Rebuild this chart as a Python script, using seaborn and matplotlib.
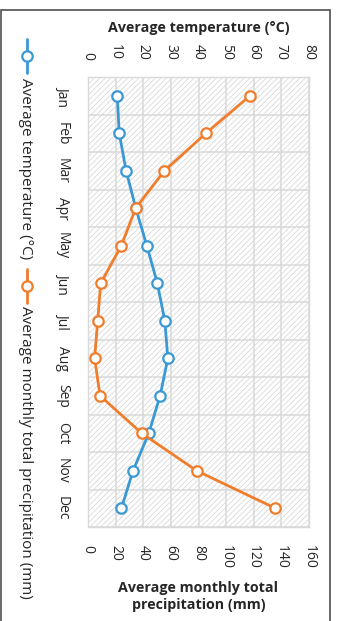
import numpy as np
import pandas as pd
import matplotlib
matplotlib.use("Agg")
import matplotlib.pyplot as plt
import seaborn as sns
from matplotlib.lines import Line2D
from matplotlib.patches import Rectangle

months = ["Jan", "Feb", "Mar", "Apr", "May", "Jun", "Jul", "Aug", "Sep", "Oct", "Nov", "Dec"]
temperature = [10.6, 11.3, 13.8, 17.3, 21.3, 25.1, 27.8, 28.9, 26.1, 22.0, 16.3, 12.1]
precipitation = [117.3, 85.4, 55.3, 34.5, 24.1, 9.2, 7.0, 4.8, 8.7, 38.9, 78.7, 135.6]
temp_ticks = [0, 10, 20, 30, 40, 50, 60, 70, 80]
precip_ticks = [0, 20, 40, 60, 80, 100, 120, 140, 160]
temp_label = "Average temperature (°C)"
precip_label = "Average monthly total\nprecipitation (mm)"
legend_temp = "Average temperature (°C)"
legend_precip = "Average monthly total precipitation (mm)"

BLUE = "#3a98d4"
ORANGE = "#f07d2c"
GRID = "#d9d9d9"
TEXT = "#262626"

sns.set_theme(style="white")
plt.rcParams["font.family"] = ["Open Sans", "DejaVu Sans"]
plt.rcParams["hatch.linewidth"] = 0.5

df = pd.DataFrame({"month": months, "pos": np.arange(len(months)),
                   "temp": temperature, "precip": precipitation})

fig = plt.figure(figsize=(3.38, 6.21), dpi=100)
ax = fig.add_axes([88 / 338, 1 - 527 / 621, 221 / 338, 450 / 621])
ax.patch.set_facecolor("white")
ax.patch.set_hatch("//////")
ax.patch.set_edgecolor("#d2d2d2")
ax.patch.set_linewidth(0)

# temperature on primary axes
sns.lineplot(data=df, x="temp", y="pos", sort=False, orient="y", ax=ax,
             color=BLUE, linewidth=2, marker="o", markersize=7.5,
             markerfacecolor="white", markeredgecolor=BLUE, markeredgewidth=1.6,
             legend=False, zorder=3)
ax.set_xlim(temp_ticks[0], temp_ticks[-1])
ax.set_xticks(temp_ticks)
ax.set_ylim(len(months) - 0.5, -0.5)
ax.set_yticks(np.arange(len(months)))
ax.set_yticklabels(months)
ax.set_yticks(np.arange(-0.5, len(months), 1), minor=True)
ax.set_xlabel("")
ax.set_ylabel("")
ax.grid(False)
ax.grid(True, axis="x", which="major", color=GRID, linewidth=1.1)
ax.grid(True, axis="y", which="minor", color=GRID, linewidth=1.1)
ax.set_axisbelow(True)
for sp in ax.spines.values():
    sp.set_color(GRID)
    sp.set_linewidth(1.0)

# precipitation on twin axes
ax2 = ax.twiny()
sns.lineplot(data=df, x="precip", y="pos", sort=False, orient="y", ax=ax2,
             color=ORANGE, linewidth=2, marker="o", markersize=7.5,
             markerfacecolor="white", markeredgecolor=ORANGE, markeredgewidth=1.6,
             legend=False, zorder=4)
ax2.set_xlim(precip_ticks[0], precip_ticks[-1])
ax2.set_xticks(precip_ticks)
ax2.set_ylim(len(months) - 0.5, -0.5)
ax2.set_xlabel("")
ax2.set_ylabel("")
ax2.grid(False)
for sp in ax2.spines.values():
    sp.set_visible(False)

# axis placement (after twiny, which moves ticks)
ax.xaxis.tick_top()
ax2.xaxis.tick_bottom()
ax.tick_params(axis="x", which="both", length=0, pad=12, labelsize=10,
               labelrotation=-90, labelcolor=TEXT)
ax.tick_params(axis="y", which="both", length=0, pad=13, labelsize=10,
               labelcolor=TEXT)
for lab in ax.get_yticklabels():
    lab.set_rotation(-90)
    lab.set_va("center")
ax2.tick_params(axis="x", length=0, pad=13, labelsize=10, labelrotation=-90,
                labelcolor=TEXT)

# axis titles
fig.text(198.5 / 338, 1 - 28 / 621, temp_label, ha="center", va="center",
         fontsize=10.3, fontweight="bold", color=TEXT)
fig.text(198.5 / 338, 1 - 596.5 / 621, precip_label, ha="center", va="center",
         fontsize=10.3, fontweight="bold", color=TEXT, linespacing=1.35)

# legend (vertical, rotated)
lx = 27 / 338
def legend_entry(color, y_top, y_bot, label, text_top):
    fig.add_artist(Line2D([lx, lx], [1 - y_top / 621, 1 - y_bot / 621],
                          transform=fig.transFigure, color=color, linewidth=2))
    ym = (y_top + y_bot) / 2
    fig.add_artist(Line2D([lx], [1 - ym / 621], transform=fig.transFigure,
                          marker="o", markersize=7.5, markerfacecolor="white",
                          markeredgecolor=color, markeredgewidth=1.6, linestyle="none"))
    fig.text(25.5 / 338, 1 - text_top / 621, label, rotation=-90, ha="center",
             va="top", fontsize=11, color=TEXT)

legend_entry(BLUE, 39, 73, legend_temp, 78)
legend_entry(ORANGE, 269, 303, legend_precip, 306)

# outer frame
fig.add_artist(Rectangle((0.0015, -0.05), 330 / 338 - 0.0015, 1.05 - 10 / 621,
                         transform=fig.transFigure, fill=False,
                         edgecolor="#505050", linewidth=1.2))

fig.savefig("out.png", dpi=100)
